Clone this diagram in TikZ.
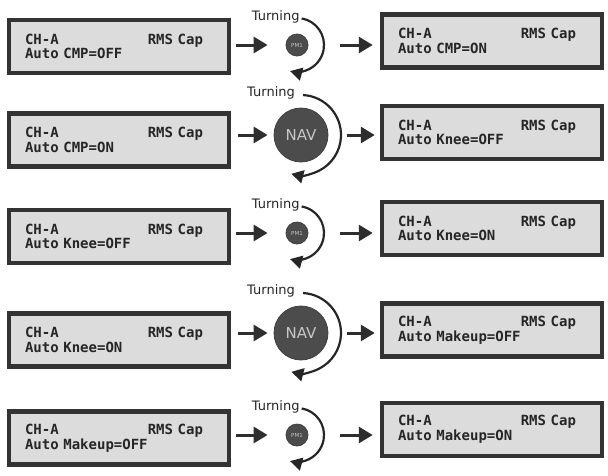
\documentclass[tikz,border=0pt]{standalone}
\usepackage{fontspec}
\setmainfont{DejaVu Sans}
\newfontfamily\lcdfont{DejaVu Sans Mono}
\usetikzlibrary{arrows.meta}
\definecolor{lcdgray}  {HTML}{DCDCDC}
\definecolor{framegray}{HTML}{333333}
\definecolor{knobgray} {HTML}{4C4C4C}

\begin{document}
\begin{tikzpicture}[x=1pt, y=-1pt,
      panel/.style={
        draw=framegray, line width=4.5pt, fill=lcdgray,
        minimum width=220pt, minimum height=53pt,
        text width=188pt, inner xsep=16pt, inner ysep=0pt,
        align=left, text=black!85,
        font=\lcdfont\bfseries\fontsize{14}{12.5}\selectfont
      },
      knob/.style={circle, fill=knobgray, draw=black!75, line width=0.8pt, inner sep=0pt, text=black!22},
      pmknob/.style={knob, minimum size=22pt, font=\fontsize{5.5}{5.5}\selectfont},
      navknob/.style={knob, minimum size=54pt, font=\fontsize{15}{15}\selectfont},
      flow/.style={-{Triangle[length=14pt,width=16pt]}, line width=3pt, draw=black!82},
      turn/.style={-{Triangle[length=12pt,width=13pt]}, line width=2.2pt, draw=black!85},
      turnlabel/.style={anchor=east, inner sep=0pt, text=black!85, font=\fontsize{13}{13}\selectfont}
    ]
      \useasboundingbox (0,0) rectangle (608,475);

      \node[panel] (l1) at (119,46.5) {CH-A\hfill RMS Cap\kern10pt\\Auto CMP=OFF};
      \node[pmknob] (k1) at (297,45) {PM1};
      \node[panel] (r1) at (492,41) {CH-A\hfill RMS Cap\kern10pt\\Auto CMP=ON};
      \draw[flow, shorten <=5pt, shorten >=18pt] (l1.east |- k1) -- (k1.west);
      \draw[flow, shorten <=32pt, shorten >=7pt] (k1.east) -- (r1.west |- k1);
      \draw[turn] ([shift={(80:27pt)}]k1.center) coordinate (t1) arc[start angle=80, end angle=-105, radius=27pt];
      \node[turnlabel] (n1) at ([shift={(-2pt,2pt)}]t1) {Turning};

      \node[panel] (l2) at (119,140) {CH-A\hfill RMS Cap\kern10pt\\Auto CMP=ON};
      \node[navknob] (k2) at (301,135) {NAV};
      \node[panel] (r2) at (492,132.5) {CH-A\hfill RMS Cap\kern10pt\\Auto Knee=OFF};
      \draw[flow, shorten <=7pt, shorten >=6pt] (l2.east |- k2) -- (k2.west);
      \draw[flow, shorten <=19pt, shorten >=5pt] (k2.east) -- (r2.west |- k2);
      \draw[turn] ([shift={(87:40pt)}]k2.center) coordinate (t2) arc[start angle=87, end angle=-104, radius=40pt];
      \node[turnlabel] (n2) at ([shift={(-8pt,2pt)}]t2) {Turning};

      \node[panel] (l3) at (119,236.5) {CH-A\hfill RMS Cap\kern10pt\\Auto Knee=OFF};
      \node[pmknob] (k3) at (297,233) {PM1};
      \node[panel] (r3) at (492,228.5) {CH-A\hfill RMS Cap\kern10pt\\Auto Knee=ON};
      \draw[flow, shorten <=5pt, shorten >=18pt] (l3.east |- k3) -- (k3.west);
      \draw[flow, shorten <=32pt, shorten >=7pt] (k3.east) -- (r3.west |- k3);
      \draw[turn] ([shift={(80:27pt)}]k3.center) coordinate (t3) arc[start angle=80, end angle=-105, radius=27pt];
      \node[turnlabel] (n3) at ([shift={(-2pt,2pt)}]t3) {Turning};

      \node[panel] (l4) at (119,340) {CH-A\hfill RMS Cap\kern10pt\\Auto Knee=ON};
      \node[navknob] (k4) at (301,333) {NAV};
      \node[panel] (r4) at (492,330) {CH-A\hfill RMS Cap\kern10pt\\Auto Makeup=OFF};
      \draw[flow, shorten <=7pt, shorten >=6pt] (l4.east |- k4) -- (k4.west);
      \draw[flow, shorten <=19pt, shorten >=5pt] (k4.east) -- (r4.west |- k4);
      \draw[turn] ([shift={(87:40pt)}]k4.center) coordinate (t4) arc[start angle=87, end angle=-104, radius=40pt];
      \node[turnlabel] (n4) at ([shift={(-8pt,2pt)}]t4) {Turning};

      \node[panel] (l5) at (119,438) {CH-A\hfill RMS Cap\kern10pt\\Auto Makeup=OFF};
      \node[pmknob] (k5) at (297,435) {PM1};
      \node[panel] (r5) at (492,429.5) {CH-A\hfill RMS Cap\kern10pt\\Auto Makeup=ON};
      \draw[flow, shorten <=5pt, shorten >=18pt] (l5.east |- k5) -- (k5.west);
      \draw[flow, shorten <=32pt, shorten >=7pt] (k5.east) -- (r5.west |- k5);
      \draw[turn] ([shift={(80:27pt)}]k5.center) coordinate (t5) arc[start angle=80, end angle=-105, radius=27pt];
      \node[turnlabel] (n5) at ([shift={(-2pt,2pt)}]t5) {Turning};
    \end{tikzpicture}
\end{document}
